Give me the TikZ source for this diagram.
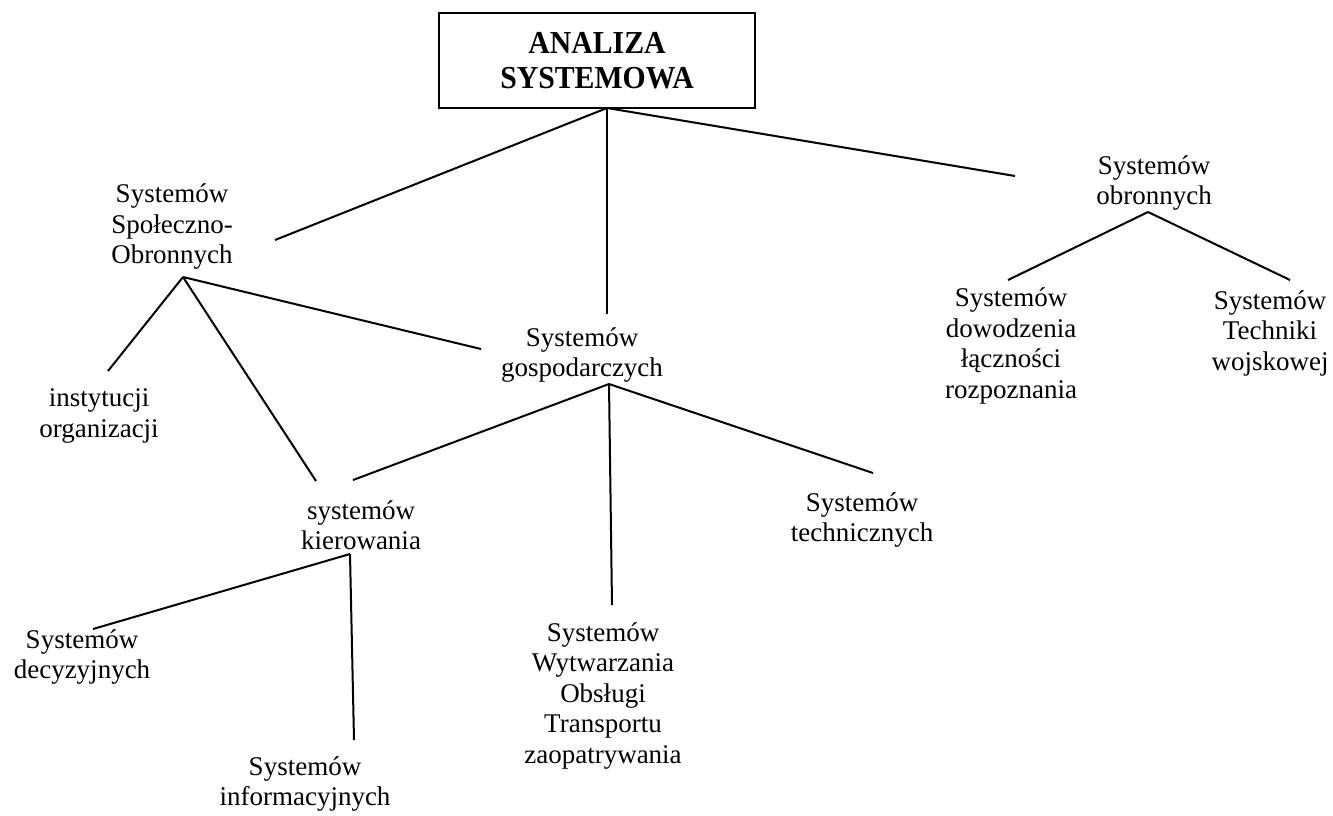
\documentclass[tikz,border=0pt]{standalone}
\usepackage{fontspec}
\setmainfont{Liberation Serif}
\newfontfamily\headfont{Liberation Serif}[FakeStretch=0.93]
\begin{document}
\begin{tikzpicture}[x=1pt,y=-1pt,
  label/.style={align=center,inner sep=0pt,font=\fontsize{27}{30.5}\selectfont},
  title/.style={draw,line width=1.8pt,minimum width=316pt,minimum height=95pt,
    align=center,inner sep=0pt,font=\headfont\fontsize{32}{35.5}\selectfont\bfseries},
  link/.style={line width=2pt}]
\useasboundingbox (0,0) rectangle (1333,815);

% nodes
\node[title] (root) at (597,60.5) {ANALIZA\\SYSTEMOWA};
\node[label] (spol) at (172,227) {Systemów\\Społeczno-\\Obronnych};
\node[label] (gosp) at (582,355) {Systemów\\gospodarczych};
\node[label] (obr) at (1154,183) {Systemów\\obronnych};
\node[label] (inst) at (99,416) {instytucji\\organizacji};
\node[label] (kier) at (361,525) {systemów\\kierowania};
\node[label] (tech) at (862,520) {Systemów\\technicznych};
\node[label] (wytw) at (603,696) {Systemów\\Wytwarzania\\Obsługi\\Transportu\\zaopatrywania};
\node[label] (decy) at (82,657) {Systemów\\decyzyjnych};
\node[label] (info) at (305,784) {Systemów\\informacyjnych};
\node[label] (dowo) at (1011,346) {Systemów\\dowodzenia\\łączności\\rozpoznania};
\node[label] (tw) at (1270,333) {Systemów\\Techniki\\wojskowej};

% branch points and line ends
\coordinate (rootB) at (607,108);
\coordinate (spolIn) at (275,240);
\coordinate (gospIn) at (607,314);
\coordinate (obrIn) at (1015,176);
\coordinate (spolB) at (183,277);
\coordinate (instIn) at (108,371);
\coordinate (kierIn1) at (316,481);
\coordinate (gospIn2) at (481,349);
\coordinate (gospB) at (609,384);
\coordinate (kierIn2) at (353,480);
\coordinate (wytwIn) at (612,605);
\coordinate (techIn) at (873,473);
\coordinate (kierB) at (350,554);
\coordinate (decyIn) at (93,629);
\coordinate (infoIn) at (354,740);
\coordinate (obrB) at (1148,212);
\coordinate (dowoIn) at (1008,280);
\coordinate (twIn) at (1290,280);

% connectors
\draw[link] (rootB) -- (spolIn);
\draw[link] (rootB) -- (gospIn);
\draw[link] (rootB) -- (obrIn);
\draw[link] (spolB) -- (instIn);
\draw[link] (spolB) -- (kierIn1);
\draw[link] (spolB) -- (gospIn2);
\draw[link] (gospB) -- (kierIn2);
\draw[link] (gospB) -- (wytwIn);
\draw[link] (gospB) -- (techIn);
\draw[link] (kierB) -- (decyIn);
\draw[link] (kierB) -- (infoIn);
\draw[link] (obrB) -- (dowoIn);
\draw[link] (obrB) -- (twIn);
\end{tikzpicture}
\end{document}
